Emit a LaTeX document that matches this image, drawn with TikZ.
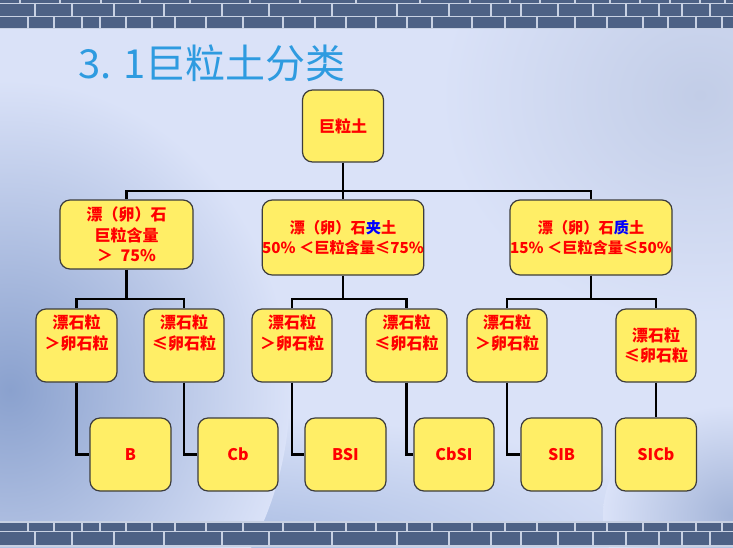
\documentclass[tikz,border=0pt]{standalone}
\usepackage{fontspec}
\setmainfont{Noto Sans CJK SC}
\definecolor{bgc}{HTML}{DAE2F8}
\definecolor{boxfill}{HTML}{FFEE66}
\definecolor{boxline}{HTML}{3C3C3C}
\definecolor{titleblue}{HTML}{2E9BE0}
\definecolor{brick}{HTML}{4D6185}
\definecolor{mortar}{HTML}{C8D1E3}
\definecolor{washa}{HTML}{8AA1CE}
\definecolor{washb}{HTML}{A9BCE2}
\definecolor{washc}{HTML}{C2CDE7}
\definecolor{washd}{HTML}{A3B4D8}
\begin{document}
\begin{tikzpicture}[x=1pt,y=-1pt,
  box/.style={draw=boxline, line width=1.2pt, fill=boxfill, rounded corners=10pt,
    inner sep=0pt, align=center, text=red,
    font=\fontsize{16}{20.5}\selectfont\bfseries},
  widetext/.style={font=\fontsize{15.2}{20.5}\selectfont\bfseries},
  conn/.style={line width=2.4pt, draw=black},
  mline/.style={draw=mortar, line width=1.1pt}]
\useasboundingbox (0,0) rectangle (733,547);
% ---------- background ----------
\begin{scope}
\clip (0,0) rectangle (733,547);
\fill[bgc] (0,0) rectangle (733,547);
\shade[inner color=washc, outer color=bgc] (700,95) ellipse (260 and 230);
\shade[inner color=washb, outer color=bgc] (200,545) ellipse (520 and 130);
\shade[inner color=washa, outer color=bgc] (10,390) ellipse (280 and 310);
\shade[inner color=washd, outer color=bgc] (733,515) ellipse (130 and 110);
% top band
\fill[brick] (0,0) rectangle (733,29);
\draw[mline] (0,3.5) -- (733,3.5);
\draw[mline] (0,16.5) -- (733,16.5);
\draw[mline] (0,28.5) -- (733,28.5);
\foreach \x in {35,72,114,164,222,269,332,397,449,491,521,558,593,626,659,682,710}
  \draw[mline] (\x,3.5) -- (\x,16.5);
\foreach \x in {28,54,82,100,126,152,175,206,243,283,315,346,376,407,432,472,505,537,575,607,643,668,696,722}
  \draw[mline] (\x,16.5) -- (\x,28.5);
\foreach \x in {20,60,101,140,190,250,300,356,420,470,510,540,575,610,640,670,700,725}
  \draw[mline] (\x,0) -- (\x,3.5);
% bottom band
\fill[brick] (0,522) rectangle (733,547);
\draw[mline] (0,522) -- (733,522);
\draw[mline] (0,531.5) -- (733,531.5);
\draw[mline] (0,546) -- (733,546);
\foreach \x in {28,54,82,100,126,152,175,206,243,283,315,346,376,407,432,472,505,537,575,607,643,668,696,722}
  \draw[mline] (\x,522) -- (\x,531.5);
\foreach \x in {35,72,114,164,222,269,332,397,449,491,521,558,593,626,659,682,710}
  \draw[mline] (\x,531.5) -- (\x,546);
\end{scope}
% ---------- title ----------
\node[anchor=west, inner sep=0pt, text=titleblue, font=\fontsize{40}{46}\selectfont] (title) at (78,63) {3. 1巨粒土分类};
% ---------- boxes ----------
\node[box, minimum width=81pt, minimum height=72pt] (root) at (343,126) {巨粒土};
\node[box, minimum width=133pt, minimum height=69pt] (l1a) at (126.5,234.5) {漂（卵）石\\巨粒含量\\＞\ \ 75\%};
\node[box, widetext, minimum width=160pt, minimum height=75pt] (l1b) at (343,237.5) {漂（卵）石{\color{blue}夹}土\\50\% ＜巨粒含量≤75\%};
\node[box, widetext, minimum width=162pt, minimum height=75pt] (l1c) at (591,237.5) {漂（卵）石{\color{blue}质}土\\15\% ＜巨粒含量≤50\%};
\node[box, minimum width=81pt, minimum height=73pt] (l2a) at (76.5,345.5) {漂石粒\\＞卵石粒\\\strut};
\node[box, minimum width=80pt, minimum height=73pt] (l2b) at (184,345.5) {漂石粒\\≤卵石粒\\\strut};
\node[box, minimum width=80pt, minimum height=73pt] (l2c) at (292,345.5) {漂石粒\\＞卵石粒\\\strut};
\node[box, minimum width=81pt, minimum height=73pt] (l2d) at (406.5,345.5) {漂石粒\\≤卵石粒\\\strut};
\node[box, minimum width=80pt, minimum height=73pt] (l2e) at (507,345.5) {漂石粒\\＞卵石粒\\\strut};
\node[box, minimum width=80pt, minimum height=73pt] (l2f) at (656,345.5) {漂石粒\\≤卵石粒};
\node[box, minimum width=81pt, minimum height=73pt] (l3a) at (130.5,454.5) {B};
\node[box, minimum width=80pt, minimum height=73pt] (l3b) at (238,454.5) {Cb};
\node[box, minimum width=81pt, minimum height=73pt] (l3c) at (345.5,454.5) {BSI};
\node[box, minimum width=80pt, minimum height=73pt] (l3d) at (454,454.5) {CbSI};
\node[box, minimum width=81pt, minimum height=73pt] (l3e) at (561.5,454.5) {SIB};
\node[box, minimum width=81pt, minimum height=73pt] (l3f) at (656,454.5) {SICb};
% ---------- connectors ----------
\coordinate (bar1) at (0,191);
\coordinate (bar2) at (0,299);
\draw[conn] (root.south) -- (l1b.north);
\draw[conn] (l1a.north) -- (l1a.north |- bar1) -- (l1c.north |- bar1) -- (l1c.north);
\draw[conn] (l1a.south) -- (l1a.south |- bar2);
\draw[conn] (l2a.north) -- (l2a.north |- bar2) -- (l2b.north |- bar2) -- (l2b.north);
\draw[conn] (l1b.south) -- (l1b.south |- bar2);
\draw[conn] (l2c.north) -- (l2c.north |- bar2) -- (l2d.north |- bar2) -- (l2d.north);
\draw[conn] (l1c.south) -- (l1c.south |- bar2);
\draw[conn] (l2e.north) -- (l2e.north |- bar2) -- (l2f.north |- bar2) -- (l2f.north);
\draw[conn] (l2a.south) |- (l3a.west);
\draw[conn] (l2b.south) |- (l3b.west);
\draw[conn] (l2c.south) |- (l3c.west);
\draw[conn] (l2d.south) |- (l3d.west);
\draw[conn] (l2e.south) |- (l3e.west);
\draw[conn] (l2f.south) -- (l3f.north);
\end{tikzpicture}
\end{document}
